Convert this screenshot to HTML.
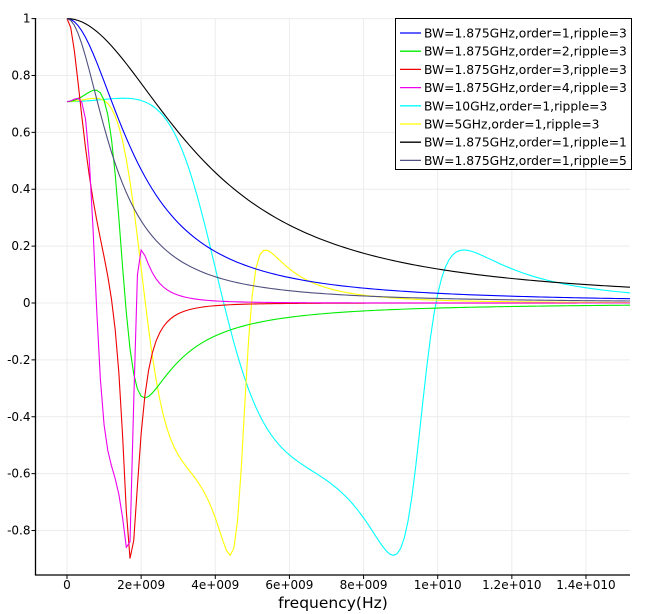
<!DOCTYPE html>
<html><head><meta charset="utf-8"><style>
body{margin:0;background:#fff}
svg{display:block;font-family:"DejaVu Sans","Liberation Sans",sans-serif}
</style></head><body>
<svg id="s" width="650" height="614" xmlns="http://www.w3.org/2000/svg">
<g id="grid" stroke="#ececec" stroke-width="1"></g>
<g id="curves" fill="none" stroke-width="1.1"></g>
<g id="axes"></g>
<rect x="395.5" y="18.5" width="236" height="151" fill="#fff" stroke="#000" stroke-width="1"/>
<g id="leg" font-size="12.3"></g>
<text x="333" y="608" font-size="15.5" text-anchor="middle">frequency(Hz)</text>
</svg>
<script>
const NS="http://www.w3.org/2000/svg";
const X0=67,XS=37.07e-9,Y0=303,YS=284.4,L=35.5,R=630,T=18,B=575;
const px=f=>X0+f*XS, py=v=>Y0-v*YS;
function el(p,t,a,txt){const e=document.createElementNS(NS,t);for(const k in a)e.setAttribute(k,a[k]);if(txt!=null)e.textContent=txt;p.appendChild(e);return e;}
const g=document.getElementById('grid'),ax=document.getElementById('axes');
const xt=[0,2e9,4e9,6e9,8e9,1e10,1.2e10,1.4e10],xl=["0","2e+009","4e+009","6e+009","8e+009","1e+010","1.2e+010","1.4e+010"];
xt.forEach((f,i)=>{const x=px(f);el(g,'line',{x1:x,x2:x,y1:T,y2:B});el(ax,'line',{x1:x,x2:x,y1:B,y2:B+4,stroke:'#000'});el(ax,'text',{x:x,y:B+14,'font-size':12,'text-anchor':'middle'},xl[i]);});
const yt=[1,0.8,0.6,0.4,0.2,0,-0.2,-0.4,-0.6,-0.8];
yt.forEach(v=>{const y=py(v);el(g,'line',{x1:L,x2:R,y1:y,y2:y});el(ax,'line',{x1:L-4,x2:L,y1:y,y2:y,stroke:'#000'});el(ax,'text',{x:L-5,y:y+4,'font-size':12,'text-anchor':'end'},String(v));});
el(ax,'path',{d:`M${L} ${T}V${B}H${R}`,stroke:'#000','stroke-width':1.3,fill:'none'});
function cheb(n,r,bw){
  const eps=Math.sqrt(Math.pow(10,r/10)-1),mu=Math.asinh(1/eps)/n,poles=[];
  for(let k=1;k<=n;k++){const th=Math.PI*(2*k-1)/(2*n);poles.push([-Math.sinh(mu)*Math.sin(th),Math.cosh(mu)*Math.cos(th)]);}
  let pr=[1,0];poles.forEach(p=>{pr=[pr[0]*(-p[0])-pr[1]*(-p[1]),pr[0]*(-p[1])+pr[1]*(-p[0])];});
  const g0=(n%2)?1:1/Math.sqrt(1+eps*eps);
  const K=g0*Math.hypot(pr[0],pr[1]);
  return f=>{const w=f/bw;let d=[1,0];poles.forEach(p=>{const a=-p[0],b=w-p[1];d=[d[0]*a-d[1]*b,d[0]*b+d[1]*a];});
    return K*d[0]/(d[0]*d[0]+d[1]*d[1]);};
}
const series=[
 ['#0000ff',1,3,1.875e9],['#00ee00',2,3,1.875e9],['#ee0000',3,3,1.875e9],['#ee00ee',4,3,1.875e9],
 ['#00ffff',4,3,10e9],['#ffff00',4,3,5e9],['#000000',1,1,1.875e9],['#505080',1,5,1.875e9]];
const cg=document.getElementById('curves');
const order=[4,5,0,1,2,3,6,7];
order.forEach(i=>{const s=series[i],h=cheb(s[1],s[2],s[3]);let d='';
  const step=1e8;
  for(let f=0;px(f)<=R+step*XS;f+=step){const x=Math.min(px(f),R);d+=(d?'L':'M')+x.toFixed(2)+' '+py(h(f)).toFixed(2);}
  el(cg,'path',{d:d,stroke:s[0]});});
const labels=["BW=1.875GHz,order=1,ripple=3","BW=1.875GHz,order=2,ripple=3","BW=1.875GHz,order=3,ripple=3","BW=1.875GHz,order=4,ripple=3","BW=10GHz,order=1,ripple=3","BW=5GHz,order=1,ripple=3","BW=1.875GHz,order=1,ripple=1","BW=1.875GHz,order=1,ripple=5"];
const lg=document.getElementById('leg');
labels.forEach((t,i)=>{const y=33+i*18.2;el(lg,'line',{x1:400,x2:421,y1:y,y2:y,stroke:series[i][0],'stroke-width':1.3});el(lg,'text',{x:424,y:y+4.5},t);});
</script>
</body></html>
